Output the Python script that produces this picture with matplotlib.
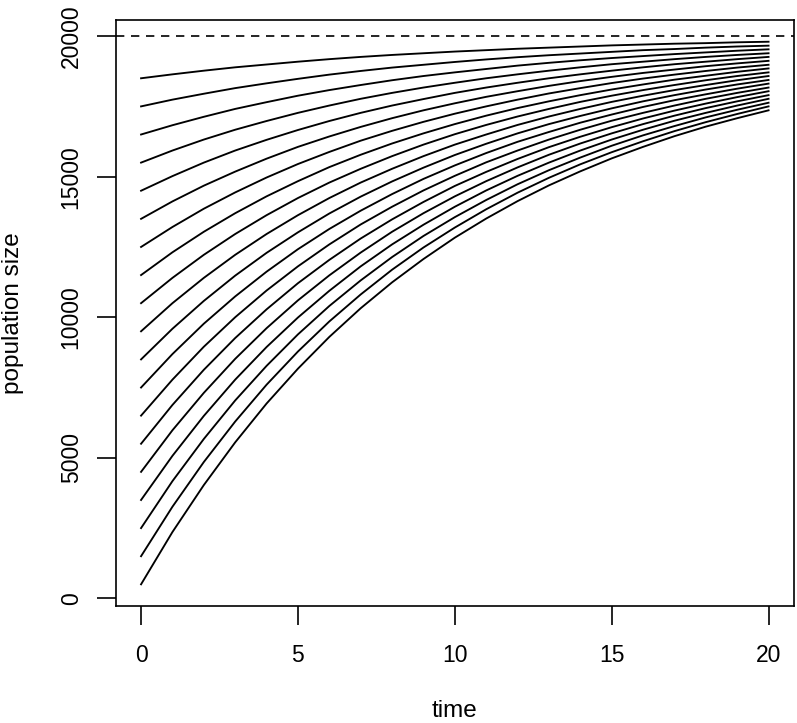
import numpy as np
import matplotlib
matplotlib.use("Agg")
import matplotlib.pyplot as plt

# ------------------------------------------------------------------
# data: population size at t = 0..20,
# one row per time step, one column per curve (top curve first)
# ------------------------------------------------------------------
time = list(range(21))
capacity = 20000

pop_by_time = [
    [18500, 17500, 16500, 15500, 14500, 13500, 12500, 11500, 10500, 9500, 8500, 7500, 6500, 5500, 4500, 3500, 2500, 1500, 500],
    [18640, 17740, 16830, 15930, 15020, 14120, 13210, 12310, 11400, 10500, 9590, 8690, 7780, 6880, 5980, 5070, 4170, 3260, 2360],
    [18770, 17950, 17130, 16320, 15500, 14680, 13860, 13040, 12220, 11400, 10580, 9770, 8950, 8130, 7310, 6490, 5670, 4850, 4030],
    [18890, 18150, 17410, 16670, 15930, 15180, 14440, 13700, 12960, 12220, 11480, 10740, 10000, 9260, 8520, 7780, 7040, 6290, 5550],
    [18990, 18320, 17650, 16980, 16310, 15640, 14970, 14300, 13630, 12960, 12290, 11620, 10950, 10280, 9610, 8940, 8270, 7600, 6930],
    [19090, 18480, 17880, 17270, 16660, 16060, 15450, 14840, 14240, 13630, 13020, 12420, 11810, 11210, 10600, 9990, 9390, 8780, 8170],
    [19180, 18630, 18080, 17530, 16980, 16430, 15880, 15340, 14790, 14240, 13690, 13140, 12590, 12040, 11490, 10940, 10400, 9850, 9300],
    [19260, 18760, 18260, 17770, 17270, 16770, 16280, 15780, 15280, 14790, 14290, 13790, 13300, 12800, 12300, 11810, 11310, 10810, 10320],
    [19330, 18880, 18430, 17980, 17530, 17080, 16630, 16180, 15730, 15280, 14830, 14380, 13930, 13480, 13040, 12590, 12140, 11690, 11240],
    [19390, 18980, 18580, 18170, 17760, 17360, 16950, 16540, 16140, 15730, 15320, 14920, 14510, 14100, 13700, 13290, 12890, 12480, 12070],
    [19450, 19080, 18710, 18340, 17980, 17610, 17240, 16870, 16510, 16140, 15770, 15400, 15030, 14670, 14300, 13930, 13560, 13190, 12830],
    [19500, 19170, 18830, 18500, 18170, 17840, 17500, 17170, 16840, 16500, 16170, 15840, 15510, 15170, 14840, 14510, 14170, 13840, 13510],
    [19550, 19250, 18950, 18640, 18340, 18040, 17740, 17440, 17140, 16840, 16540, 16240, 15930, 15630, 15330, 15030, 14730, 14430, 14130],
    [19590, 19320, 19050, 18770, 18500, 18230, 17960, 17680, 17410, 17140, 16870, 16590, 16320, 16050, 15780, 15500, 15230, 14960, 14690],
    [19630, 19380, 19140, 18890, 18640, 18400, 18150, 17900, 17660, 17410, 17160, 16920, 16670, 16420, 16180, 15930, 15680, 15440, 15190],
    [19670, 19440, 19220, 19000, 18770, 18550, 18330, 18100, 17880, 17660, 17430, 17210, 16990, 16760, 16540, 16320, 16100, 15870, 15650],
    [19700, 19500, 19290, 19090, 18890, 18690, 18490, 18280, 18080, 17880, 17680, 17480, 17270, 17070, 16870, 16670, 16470, 16260, 16060],
    [19730, 19540, 19360, 19180, 19000, 18810, 18630, 18450, 18260, 18080, 17900, 17720, 17530, 17350, 17170, 16990, 16800, 16620, 16440],
    [19750, 19590, 19420, 19260, 19090, 18930, 18760, 18590, 18430, 18260, 18100, 17930, 17770, 17600, 17440, 17270, 17110, 16940, 16780],
    [19780, 19630, 19480, 19330, 19180, 19030, 18880, 18730, 18580, 18430, 18280, 18130, 17980, 17830, 17680, 17530, 17380, 17230, 17080],
    [19800, 19660, 19530, 19390, 19260, 19120, 18980, 18850, 18710, 18580, 18440, 18310, 18170, 18040, 17900, 17770, 17630, 17500, 17360],
]

x_ticks = [0, 5, 10, 15, 20]
y_ticks = [0, 5000, 10000, 15000, 20000]

# ------------------------------------------------------------------
# plot, R base-graphics look
# ------------------------------------------------------------------
plt.rcParams['font.family'] = ['Liberation Sans', 'DejaVu Sans']

fig = plt.figure(figsize=(7.97, 7.23), dpi=100)
ax = fig.add_axes([0.1455, 0.1618, 0.8503, 0.8105])

pop = np.array(pop_by_time, dtype=float)
for j in range(pop.shape[1]):
    ax.plot(time, pop[:, j], color='black', lw=1.35)

ax.axhline(capacity, color='black', lw=1.2, linestyle=(0, (5, 4)))

# R style 4% axis expansion
xr = max(time) - min(time)
ax.set_xlim(min(time) - 0.04 * xr, max(time) + 0.04 * xr)
yr = pop.max() - pop.min()
ax.set_ylim(pop.min() - 0.04 * yr, pop.max() + 0.04 * yr)

ax.set_xticks(x_ticks)
ax.set_yticks(y_ticks)
ax.set_yticklabels([str(v) for v in y_ticks], rotation=90, va='center')
ax.tick_params(axis='x', length=14, width=1.2, labelsize=16.5, pad=13)
ax.tick_params(axis='y', length=14, width=1.2, labelsize=16.5, pad=10)
for s in ax.spines.values():
    s.set_linewidth(1.2)

ax.set_xlabel("time", fontsize=17.5, va='center')
ax.set_ylabel("population size", fontsize=17.5, va='center', ha='center')
ax.xaxis.set_label_coords(0.5, -0.179)
ax.yaxis.set_label_coords(-0.152, 0.5)

fig.savefig("out.png", dpi=100)
